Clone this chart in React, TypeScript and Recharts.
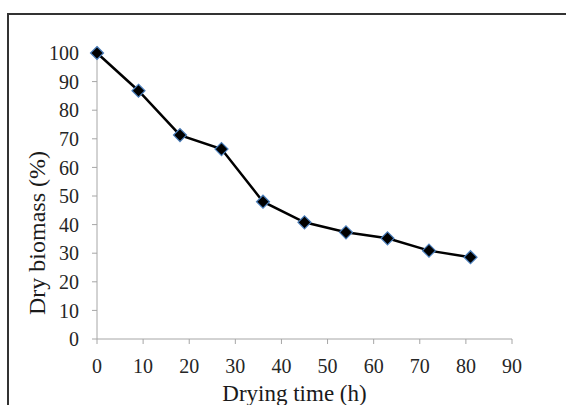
import { LineChart, Line, XAxis, YAxis, Label } from 'recharts';

// drying time (h) and remaining dry biomass (%)
const dryingTime = [0, 9, 18, 27, 36, 45, 54, 63, 72, 81];
const dryBiomass = [100, 86.8, 71.3, 66.4, 48, 40.8, 37.3, 35.2, 30.9, 28.6];
const xTicks = [0, 10, 20, 30, 40, 50, 60, 70, 80, 90];
const yTicks = [0, 10, 20, 30, 40, 50, 60, 70, 80, 90, 100];

const data = dryingTime.map((t, i) => ({ time: t, biomass: dryBiomass[i] }));

const serif = '"Liberation Serif", "Times New Roman", serif';

const Diamond = (props: any) => {
  const { cx, cy } = props;
  if (cx == null || cy == null) return null;
  const r = 6.5;
  return (
    <polygon
      points={`${cx},${cy - r} ${cx + r},${cy} ${cx},${cy + r} ${cx - r},${cy}`}
      fill="#000"
      stroke="#4a7ebb"
      strokeWidth={1.2}
    />
  );
};

const XTitle = (props: any) => {
  const { viewBox } = props;
  return (
    <text
      x={viewBox.x + viewBox.width / 2 - 10}
      y={viewBox.y + 62}
      textAnchor="middle"
      fontFamily={serif}
      fontSize={23}
      fill="#1a1a1a"
    >
      Drying time (h)
    </text>
  );
};

const YTitle = (props: any) => {
  const { viewBox } = props;
  const x = 45;
  const y = viewBox.y + viewBox.height / 2 + 37;
  return (
    <text
      x={x}
      y={y}
      transform={`rotate(-90, ${x}, ${y})`}
      textAnchor="middle"
      fontFamily={serif}
      fontSize={24}
      fill="#1a1a1a"
    >
      Dry biomass (%)
    </text>
  );
};

export default function App() {
  return (
    <div style={{ position: 'absolute', left: 0, top: 0, width: 566, height: 405, background: '#fff', overflow: 'hidden' }}>
      <div
        style={{
          position: 'absolute',
          left: 7,
          top: 13,
          width: 600,
          height: 440,
          border: '2px solid #333',
          boxSizing: 'border-box',
        }}
      />
      <div style={{ position: 'absolute', left: 0, top: 0 }}>
        <LineChart
          width={566}
          height={405}
          data={data}
          margin={{ top: 53, right: 54, left: 0, bottom: 0 }}
        >
          <XAxis
            dataKey="time"
            type="number"
            domain={[0, 90]}
            ticks={xTicks}
            height={66}
            stroke="#a6a6a6"
            tickSize={5}
            tickMargin={15}
            tick={{ fill: '#262626', fontSize: 20, fontFamily: serif }}
          >
            <Label content={<XTitle />} />
          </XAxis>
          <YAxis
            type="number"
            domain={[0, 100]}
            ticks={yTicks}
            width={97}
            stroke="#a6a6a6"
            tickSize={5}
            tickMargin={13}
            tick={{ fill: '#262626', fontSize: 20, fontFamily: serif }}
          >
            <Label content={<YTitle />} />
          </YAxis>
          <Line
            dataKey="biomass"
            stroke="#000"
            strokeWidth={2.5}
            dot={<Diamond />}
            activeDot={false}
            isAnimationActive={false}
          />
        </LineChart>
      </div>
    </div>
  );
}
